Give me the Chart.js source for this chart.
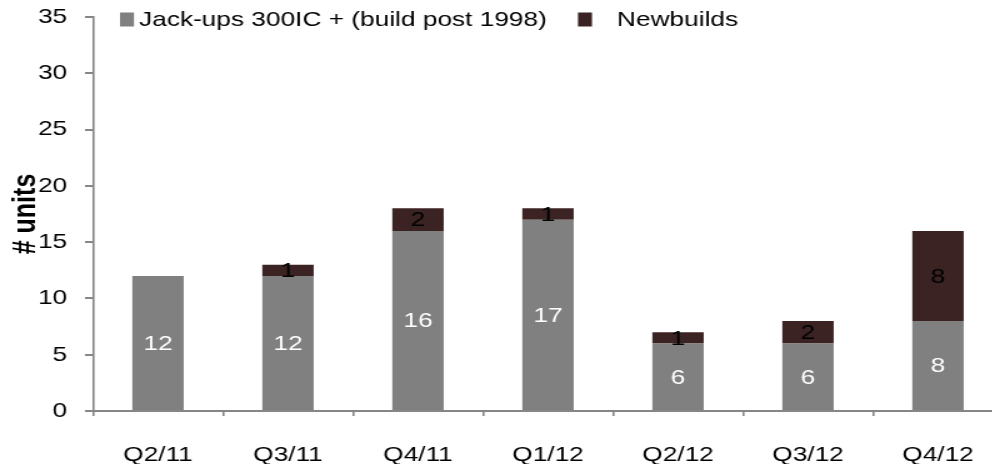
<!DOCTYPE html>
<html><head><meta charset="utf-8">
<script src="https://cdn.jsdelivr.net/npm/chart.js@4"></script>
<style>
html,body{margin:0;padding:0;overflow:hidden;background:#fff;width:992px;height:464px;}
#wrap{width:808px;height:464px;transform:scaleX(1.25);transform-origin:0 0;}
canvas{display:block;}
</style></head><body>
<div id="wrap"><canvas id="c" width="808" height="464"></canvas></div>
<script>
const categories = ['Q2/11','Q3/11','Q4/11','Q1/12','Q2/12','Q3/12','Q4/12'];
const jackups = [12,12,16,17,6,6,8];
const newbuilds = [0,1,2,1,1,2,8];
const seriesNames = ['Jack-ups 300IC + (build post 1998)','Newbuilds'];
const yMin = 0, yMax = 35, yStep = 5;
const yTitle = '# units';

const FONT = '"Liberation Sans", Arial, sans-serif';
const AXIS = '#868686';

const legendPlugin = {
  id: 'customLegend',
  afterDraw(chart) {
    const ctx = chart.ctx;
    const pos = [{x: 96, tx: 111.2}, {x: 462.4, tx: 493.6}];
    ctx.save();
    ctx.font = '21px ' + FONT;
    ctx.textBaseline = 'alphabetic';
    ctx.textAlign = 'left';
    chart.data.datasets.forEach((ds, i) => {
      ctx.fillStyle = ds.backgroundColor;
      ctx.fillRect(pos[i].x, 12.5, 11.2, 14);
      ctx.fillStyle = '#000';
      ctx.fillText(ds.label, pos[i].tx, 26);
    });
    ctx.restore();
  }
};

const labelPlugin = {
  id: 'segLabels',
  afterDatasetsDraw(chart) {
    const ctx = chart.ctx;
    ctx.save();
    ctx.font = '21px ' + FONT;
    ctx.textAlign = 'center';
    ctx.textBaseline = 'middle';
    chart.data.datasets.forEach((ds, i) => {
      const meta = chart.getDatasetMeta(i);
      ctx.fillStyle = i === 0 ? '#ffffff' : '#000000';
      meta.data.forEach((bar, j) => {
        const v = ds.data[j];
        if (!v) return;
        const p = bar.getProps(['x', 'y', 'base'], true);
        ctx.fillText(String(v), p.x, (p.y + p.base) / 2 + 1);
      });
    });
    ctx.restore();
  }
};

new Chart(document.getElementById('c'), {
  type: 'bar',
  data: {
    labels: categories,
    datasets: [
      {label: seriesNames[0], data: jackups, backgroundColor: '#808080', borderWidth: 0},
      {label: seriesNames[1], data: newbuilds, backgroundColor: '#3a2322', borderWidth: 0}
    ]
  },
  options: {
    responsive: false,
    animation: false,
    devicePixelRatio: 1,
    layout: {padding: {top: 17, right: 5.6, left: 0, bottom: 0}},
    datasets: {bar: {categoryPercentage: 1, barPercentage: 0.395}},
    plugins: {legend: {display: false}, tooltip: {enabled: false}},
    scales: {
      x: {
        stacked: true,
        afterFit(scale) { scale.height = 53; },
        grid: {display: true, drawOnChartArea: false, drawTicks: true, tickLength: 5, color: AXIS, lineWidth: 1.6, offset: true},
        border: {display: true, color: AXIS, width: 2},
        ticks: {color: '#000', font: {family: FONT, size: 21}, padding: 26.5, maxRotation: 0, autoSkip: false}
      },
      y: {
        stacked: true,
        min: yMin, max: yMax,
        afterFit(scale) { scale.width = 74.4; scale.paddingTop = 0; scale.paddingBottom = 0; },
        grid: {display: true, drawOnChartArea: false, drawTicks: true, tickLength: 6.4, color: AXIS, lineWidth: 2},
        border: {display: true, color: AXIS, width: 1.6},
        ticks: {stepSize: yStep, color: '#000', font: {family: FONT, size: 21}, padding: 14.2},
        title: {display: true, text: yTitle, color: '#000', font: {family: FONT, size: 25, weight: 'bold'}, padding: {top: 6, bottom: 0}}
      }
    }
  },
  plugins: [labelPlugin, legendPlugin]
});
</script>
</body></html>
